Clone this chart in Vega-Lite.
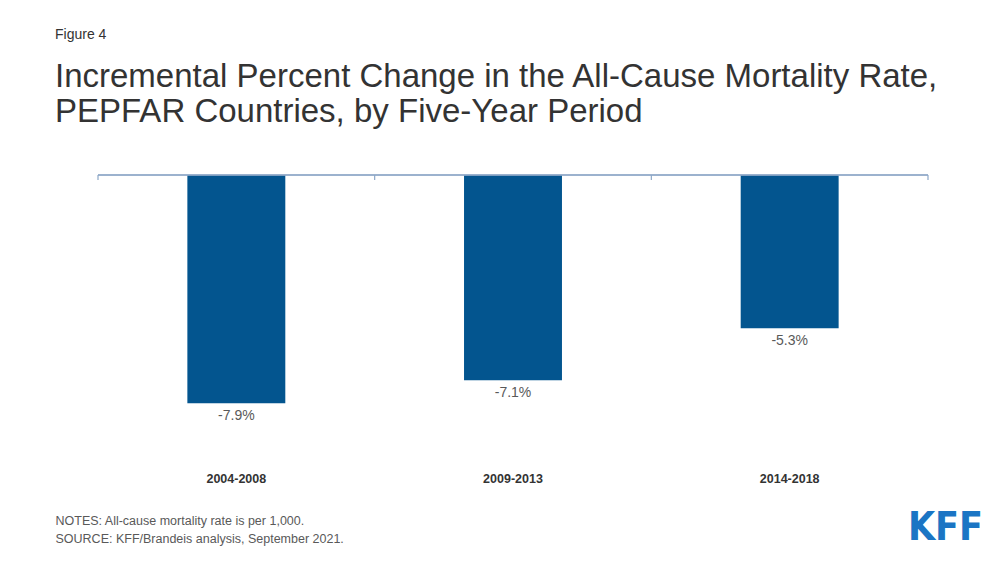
{
  "$schema": "https://vega.github.io/schema/vega-lite/v6.json",
  "width": 830,
  "height": 289,
  "autosize": "none",
  "padding": {"left": 98, "top": 175, "right": 77, "bottom": 104},
  "background": "white",
  "config": {"view": {"stroke": null}, "font": "Liberation Sans"},
  "title": {
    "text": "Figure 4",
    "subtitle": ["Incremental Percent Change in the All-Cause Mortality Rate,", "PEPFAR Countries, by Five-Year Period"],
    "anchor": "start",
    "frame": "group",
    "dx": -43,
    "fontSize": 14,
    "font": "Liberation Sans",
    "fontWeight": "normal",
    "color": "#333333",
    "subtitleFontSize": 33,
    "subtitleFont": "Liberation Sans",
    "subtitleColor": "#333333",
    "subtitleLineHeight": 35,
    "subtitlePadding": 19,
    "offset": 45
  },
  "data": {
    "values": [
      {"period": "2004-2008", "value": -0.079, "label": "-7.9%"},
      {"period": "2009-2013", "value": -0.071, "label": "-7.1%"},
      {"period": "2014-2018", "value": -0.053, "label": "-5.3%"}
    ]
  },
  "layer": [
    {
      "mark": {"type": "bar", "color": "#03558F"},
      "encoding": {
        "x": {
          "field": "period",
          "type": "nominal",
          "sort": null,
          "scale": {"paddingInner": 0.646, "paddingOuter": 0.323},
          "axis": {
            "orient": "bottom",
            "domain": false,
            "ticks": false,
            "grid": false,
            "bandPosition": 0.5,
            "labelAngle": 0,
            "labelFontSize": 12.5,
            "labelFontWeight": "bold",
            "labelColor": "#333333",
            "labelPadding": 8,
            "title": ["NOTES: All-cause mortality rate is per 1,000.", "SOURCE: KFF/Brandeis analysis, September 2021."],
            "titleAnchor": "start",
            "titleAlign": "left",
            "titleBaseline": "top",
            "titleX": -43,
            "titleY": 50,
            "titleFontSize": 12.5,
            "titleFontWeight": "normal",
            "titleColor": "#595959",
            "titleLineHeight": 18
          }
        },
        "y": {
          "field": "value",
          "type": "quantitative",
          "scale": {"domain": [-0.1, 0], "nice": false},
          "axis": {
            "orient": "right",
            "domain": false,
            "ticks": false,
            "labels": false,
            "grid": false,
            "title": "KFF",
            "titleAngle": 0,
            "titleAlign": "center",
            "titleBaseline": "alphabetic",
            "titleX": 17,
            "titleY": 364,
            "titleFont": "DejaVu Sans Condensed, Liberation Sans Narrow, Liberation Sans",
            "titleFontSize": 39,
            "titleFontWeight": "bold",
            "titleColor": "#1B75C4"
          }
        }
      }
    },
    {
      "mark": {"type": "rule", "color": "#8DA8C8", "strokeWidth": 1.2},
      "encoding": {"y": {"datum": 0}}
    },
    {
      "mark": {"type": "rule", "color": "#8DA8C8", "strokeWidth": 1.2},
      "encoding": {
        "x": {"field": "period", "type": "nominal", "sort": null, "bandPosition": -0.9124},
        "y": {"datum": 0},
        "y2": {"datum": -0.0017}
      }
    },
    {
      "transform": [{"filter": "datum.period === '2014-2018'"}],
      "mark": {"type": "rule", "color": "#8DA8C8", "strokeWidth": 1.2},
      "encoding": {
        "x": {"field": "period", "type": "nominal", "sort": null, "bandPosition": 1.9124},
        "y": {"datum": 0},
        "y2": {"datum": -0.0017}
      }
    },
    {
      "mark": {"type": "text", "baseline": "top", "dy": 6, "fontSize": 14, "color": "#595959"},
      "encoding": {
        "x": {"field": "period", "type": "nominal", "sort": null},
        "y": {"field": "value", "type": "quantitative"},
        "text": {"field": "label"}
      }
    }
  ]
}
